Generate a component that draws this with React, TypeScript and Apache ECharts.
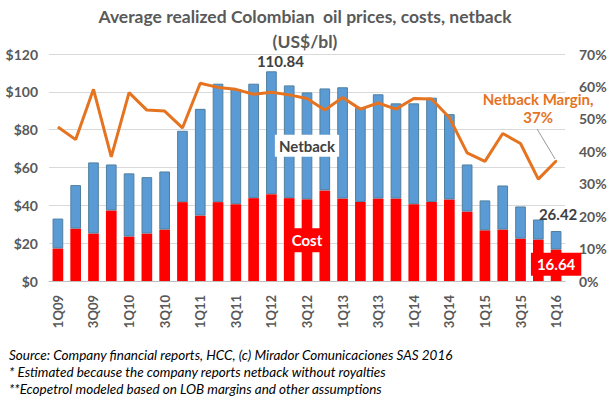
import React, { useEffect, useRef } from "react";
import * as echarts from "echarts";

const quarters = [
  "1Q09", "2Q09", "3Q09", "4Q09",
  "1Q10", "2Q10", "3Q10", "4Q10",
  "1Q11", "2Q11", "3Q11", "4Q11",
  "1Q12", "2Q12", "3Q12", "4Q12",
  "1Q13", "2Q13", "3Q13", "4Q13",
  "1Q14", "2Q14", "3Q14", "4Q14",
  "1Q15", "2Q15", "3Q15", "4Q15",
  "1Q16",
];

// Total realized price (US$/bl)
const totalPrice = [
  33.0, 50.7, 62.7, 61.6,
  56.9, 54.9, 57.9, 79.4,
  91.0, 104.3, 101.5, 104.3,
  110.84, 103.4, 99.7, 101.8,
  102.4, 91.6, 98.7, 93.9,
  93.9, 96.9, 88.2, 61.6,
  42.6, 50.5, 39.4, 32.5,
  26.42,
];

// Costs (US$/bl)
const costs = [
  17.2, 27.7, 25.1, 37.3,
  23.5, 25.1, 27.2, 41.7,
  34.6, 41.7, 40.6, 43.8,
  45.9, 43.8, 43.2, 47.9,
  43.6, 41.8, 43.6, 43.6,
  40.6, 41.8, 43.1, 36.7,
  26.8, 27.2, 22.4, 21.9,
  16.64,
];

// Netback margin (%)
const margin = [
  47.5, 43.6, 59.1, 38.3,
  58.1, 52.7, 52.4, 47.2,
  61.0, 59.7, 59.1, 57.6,
  58.2, 57.4, 56.3, 52.7,
  56.6, 53.0, 54.9, 53.0,
  56.3, 56.1, 50.4, 39.5,
  36.9, 45.5, 42.4, 31.4,
  37.0,
];

const leftTicks = [0, 120, 20];
const rightTicks = [0, 70, 10];

const GRAY = "#595959";
const RED = "#FF0000";
const BLUE = "#5B9BD5";
const ORANGE = "#E5731F";

export default function App() {
  const ref = useRef<HTMLDivElement>(null);

  useEffect(() => {
    if (!ref.current) return;
    const chart = echarts.init(ref.current, undefined, { renderer: "svg" });
    const last = quarters.length - 1;
    const labelIdx = 14;
    const peakIdx = 12;

    const costData = costs.map((v, i) => {
      if (i === labelIdx) {
        return {
          value: v,
          label: {
            show: true,
            position: "inside",
            formatter: "Cost",
            color: "#fff",
            fontWeight: "bold",
            fontSize: 15,
            fontFamily: "Lato",
            backgroundColor: RED,
            padding: [5, 5, 4, 5],
          },
        };
      }
      if (i === last) {
        return {
          value: v,
          label: {
            show: true,
            position: "inside",
            offset: [0, -1],
            formatter: () => costs[last].toFixed(2),
            color: "#fff",
            fontWeight: "bold",
            fontSize: 15,
            fontFamily: "Lato",
            backgroundColor: RED,
            padding: [4, 6, 4, 6],
          },
        };
      }
      return v;
    });

    const netData = totalPrice.map((t, i) => {
      const v = +(t - costs[i]).toFixed(2);
      if (i === labelIdx) {
        return {
          value: v,
          label: {
            show: true,
            position: "inside",
            formatter: "Netback",
            color: "#404040",
            fontWeight: "bold",
            fontSize: 15,
            fontFamily: "Lato",
            backgroundColor: "#fff",
            padding: [4, 4, 3, 4],
          },
        };
      }
      if (i === peakIdx || i === last) {
        return {
          value: v,
          label: {
            show: true,
            position: "top",
            distance: 4,
            offset: i === peakIdx ? [9, 1] : [2, -6],
            formatter: () => totalPrice[i].toFixed(2),
            color: "#404040",
            fontWeight: "bold",
            fontSize: 15,
            fontFamily: "Lato",
          },
        };
      }
      return v;
    });

    const marginData = margin.map((v, i) => {
      if (i === last) {
        return {
          value: v,
          symbol: "circle",
          symbolSize: 2,
          label: {
            show: true,
            position: "top",
            formatter: "Netback Margin,\n" + Math.round(margin[last]) + "%",
            color: ORANGE,
            fontWeight: "bold",
            fontSize: 15,
            fontFamily: "Lato",
            align: "center",
            lineHeight: 18,
          },
        };
      }
      return v;
    });

    chart.setOption({
      animation: false,
      backgroundColor: "#fff",
      title: {
        text: "Average realized Colombian  oil prices, costs, netback\n(US$/bl)",
        left: "center",
        top: 4,
        padding: 0,
        textStyle: {
          color: GRAY,
          fontSize: 17.5,
          fontWeight: "bold",
          fontFamily: "Lato",
          lineHeight: 25,
        },
      },
      grid: { left: 49, right: 45, top: 54, bottom: 126, containLabel: false },
      xAxis: {
        type: "category",
        data: quarters,
        axisTick: { show: false },
        axisLine: { lineStyle: { color: "#BFBFBF" } },
        axisLabel: {
          rotate: 90,
          interval: 1,
          margin: 14,
          color: GRAY,
          fontWeight: "bold",
          fontSize: 13,
          fontFamily: "Lato",
        },
      },
      yAxis: [
        {
          type: "value",
          min: leftTicks[0],
          max: leftTicks[1],
          interval: leftTicks[2],
          axisLine: { show: false },
          axisTick: { show: false },
          splitLine: { lineStyle: { color: "#D9D9D9" } },
          axisLabel: {
            formatter: "${value}",
            color: GRAY,
            fontWeight: "bold",
            fontSize: 14,
            fontFamily: "Lato",
            margin: 11,
          },
        },
        {
          type: "value",
          min: rightTicks[0],
          max: rightTicks[1],
          interval: rightTicks[2],
          axisLine: { show: false },
          axisTick: { show: false },
          splitLine: { show: false },
          axisLabel: {
            formatter: "{value}%",
            color: GRAY,
            fontWeight: "bold",
            fontSize: 14,
            fontFamily: "Lato",
            margin: 14,
          },
        },
      ],
      series: [
        {
          name: "Cost",
          type: "bar",
          stack: "price",
          barCategoryGap: "40%",
          itemStyle: { color: RED },
          data: costData,
          z: 2,
        },
        {
          name: "Netback",
          type: "bar",
          stack: "price",
          barCategoryGap: "40%",
          itemStyle: { color: BLUE, borderColor: "#4F7F9F", borderWidth: 1 },
          data: netData,
          z: 2,
        },
        {
          name: "Netback Margin",
          type: "line",
          yAxisIndex: 1,
          symbol: "none",
          showSymbol: true,
          lineStyle: { color: ORANGE, width: 3 },
          itemStyle: { color: ORANGE },
          data: marginData,
          labelLayout: { dx: -18, dy: -29 },
          z: 5,
        },
        {
          name: "leader",
          type: "custom",
          xAxisIndex: 0,
          yAxisIndex: 1,
          silent: true,
          z: 6,
          data: [[last, margin[last]]],
          renderItem: (params: any, api: any) => {
            const p = api.coord([api.value(0), api.value(1)]);
            return {
              type: "line",
              shape: { x1: p[0] - 1, y1: p[1] - 2, x2: p[0] - 19, y2: p[1] - 32 },
              style: { stroke: "#9A9A9A", lineWidth: 1 },
            };
          },
        },
      ],
      graphic: [
        {
          id: "notes",
          type: "text",
          left: 9,
          top: 346,
          style: {
            text:
              "Source: Company financial reports, HCC, (c) Mirador Comunicaciones SAS 2016\n" +
              "* Estimated because the company reports netback without royalties\n" +
              "**Ecopetrol modeled based on LOB margins and other assumptions",
            fill: "#000",
            fontStyle: "italic",
            fontSize: 13.5,
            fontFamily: "Lato",
            lineHeight: 17,
          },
        },
      ],
    });

    return () => chart.dispose();
  }, []);

  return (
    <div
      ref={ref}
      style={{ position: "fixed", left: 0, top: 0, width: 610, height: 407, background: "#fff" }}
    />
  );
}
